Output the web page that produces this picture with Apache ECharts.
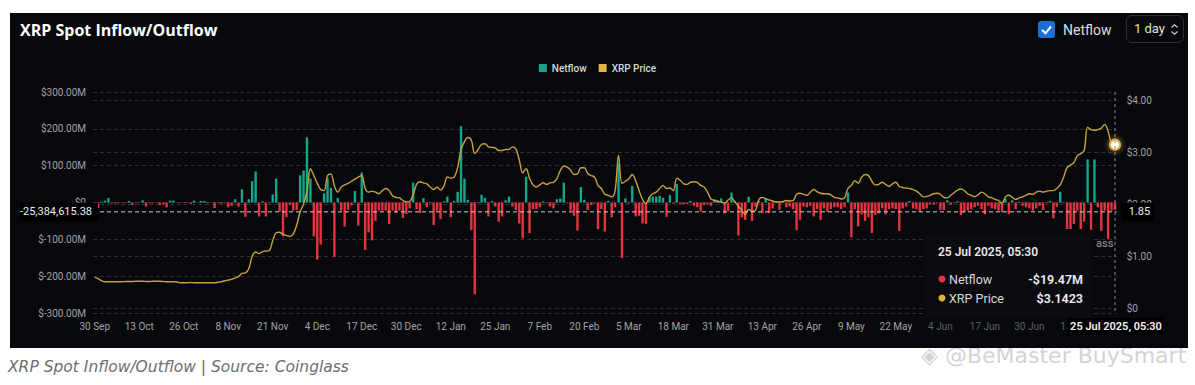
<!DOCTYPE html>
<html><head><meta charset="utf-8">
<script src="https://cdn.jsdelivr.net/npm/echarts@6/dist/echarts.min.js"></script>
<style>
html,body{margin:0;padding:0;background:#fff;width:1195px;height:385px;overflow:hidden;}
#wrap{position:relative;width:1195px;height:385px;}
#wm{position:absolute;left:921px;top:343px;font:22px 'DejaVu Sans',sans-serif;color:#d4d4d4;white-space:nowrap;}
#panel{position:absolute;left:10px;top:13px;width:1178px;height:335px;background:#07080c;}
#chart{position:absolute;left:0;top:0;width:1195px;height:385px;}
#cap{position:absolute;left:8px;top:358px;font:italic 15.5px 'DejaVu Sans',sans-serif;color:#6e6e6e;white-space:nowrap;}
#cb{position:absolute;left:1038px;top:21px;width:17px;height:17px;background:#1c6fd4;border-radius:3px;}
#nf{position:absolute;left:1063px;top:20px;font:14px 'Roboto',sans-serif;color:#dedede;line-height:20px;}
#sel{position:absolute;left:1126px;top:15px;width:58px;height:28px;border:1px solid #2c2e34;border-radius:6px;box-sizing:border-box;font:13px 'Roboto',sans-serif;color:#e0e0e0;line-height:26px;padding-left:7px;}
#sel svg{position:absolute;left:44px;top:8px;}
</style></head>
<body><div id="wrap">
<div id="wm">&#9672; @BeMaster BuySmart</div>
<div id="panel"></div>
<div id="cap">XRP Spot Inflow/Outflow | Source: Coinglass</div>
<div id="chart"></div>
<div id="cb"><svg width="17" height="17"><path d="M4 9 L7.5 12.3 L13 5.5" stroke="#fff" stroke-width="2" fill="none"/></svg></div>
<div id="nf">Netflow</div>
<div id="sel">1 day<svg width="7" height="11"><path d="M0.5 3.5 L3.5 0.8 L6.5 3.5 M0.5 7.5 L3.5 10.2 L6.5 7.5" stroke="#cfcfcf" stroke-width="1.2" fill="none"/></svg></div>
</div>
<script>
// Daily netflow (millions USD), 30 Sep 2024 .. 25 Jul 2025
const NETFLOW = [
-1,-15,2,5,12,-3,-2,-2,-1,-2,
4,-7,-1,-1,6,-11,-2,-2,-1,-7,
-5,-13,5,5,-1,-1,-2,-1,-4,5,
-1,4,4,-2,-1,-15,-2,-3,-2,-13,
-9,9,-11,36,-39,9,58,84,-38,3,
-38,-2,22,65,-25,-92,-40,-7,-22,-20,
74,87,177,65,-92,-155,-114,25,65,40,
-148,12,-22,-65,-20,-8,31,-63,81,-129,
-81,-103,-50,-22,-22,-22,-58,-22,-27,-22,
-42,-31,-16,54,-18,-29,12,-13,-2,-61,
-22,-45,3,16,-40,4,29,207,65,7,
-75,-249,-2,21,13,-38,4,-11,-52,-38,
6,16,-11,-20,-57,-97,70,-83,-18,-18,
-13,3,-2,-11,-16,9,11,54,-2,-22,
-36,-76,42,7,-20,-7,-3,-72,-18,-79,
4,-40,-13,105,-151,11,-3,45,-38,-36,
-57,-58,15,16,16,18,13,-39,20,-3,
50,-5,-4,-4,4,-9,-13,-24,-7,-5,
-9,9,6,11,-30,-24,27,4,-90,-40,
-47,16,-50,-11,4,-29,12,-29,-16,4,
-20,4,-13,-11,-18,-75,-47,-11,-13,-9,
-38,-18,-47,-16,-25,-18,-13,-13,-18,-13,
27,-95,-18,-65,-32,-50,-40,-83,-34,-30,
-16,-32,-18,-16,-18,-77,-16,-11,4,-16,
-18,-25,-18,-16,-5,-5,-2,-20,-20,6,
-6,-2,3,-34,-27,-22,-18,-13,-9,-18,
-32,-9,-16,-18,-22,-27,11,-32,6,-18,
2,-9,-13,-16,-22,-16,-9,-20,-2,4,
-43,-11,29,-2,-72,-72,-58,-22,-72,-52,
117,-74,117,-13,-77,-22,-99,-22,-19.47
];
// Daily XRP price (USD)
const PRICE = [
0.60,0.57,0.53,0.51,0.51,0.51,0.51,0.51,0.51,0.515,
0.515,0.515,0.52,0.52,0.52,0.515,0.515,0.52,0.52,0.52,
0.515,0.51,0.51,0.51,0.505,0.49,0.49,0.49,0.495,0.49,
0.49,0.49,0.49,0.49,0.49,0.49,0.50,0.51,0.53,0.54,
0.56,0.58,0.61,0.67,0.68,0.76,1.00,1.08,1.05,1.09,
1.10,1.11,1.30,1.45,1.46,1.42,1.40,1.38,1.43,1.60,
1.85,2.00,2.25,2.68,2.55,2.40,2.28,2.26,2.55,2.58,
2.35,2.23,2.33,2.37,2.40,2.44,2.48,2.52,2.55,2.30,
2.23,2.25,2.23,2.20,2.26,2.30,2.26,2.16,2.13,2.12,
2.07,2.04,2.05,2.18,2.38,2.43,2.41,2.39,2.33,2.28,
2.33,2.27,2.35,2.52,2.50,2.52,2.70,3.05,3.20,3.28,
3.23,2.97,3.05,3.15,3.16,3.10,3.09,3.08,3.03,3.03,
3.05,3.05,3.10,3.06,2.85,2.60,2.68,2.50,2.37,2.33,
2.37,2.41,2.38,2.41,2.42,2.49,2.65,2.73,2.71,2.65,
2.57,2.58,2.70,2.70,2.59,2.55,2.52,2.36,2.30,2.19,
2.17,2.14,2.26,2.94,2.40,2.44,2.49,2.57,2.45,2.26,
2.09,2.01,2.13,2.20,2.23,2.30,2.36,2.30,2.31,2.26,
2.50,2.46,2.39,2.38,2.42,2.43,2.42,2.36,2.33,2.23,
2.10,2.07,2.05,2.04,2.02,2.08,2.12,2.04,1.96,1.88,
1.80,1.90,1.86,1.88,2.09,2.13,2.10,2.08,2.06,2.04,
2.04,2.05,2.07,2.06,2.07,2.19,2.21,2.19,2.17,2.23,
2.28,2.24,2.21,2.20,2.20,2.18,2.13,2.12,2.10,2.12,
2.30,2.36,2.45,2.40,2.52,2.57,2.55,2.44,2.37,2.38,
2.42,2.38,2.34,2.39,2.42,2.34,2.32,2.31,2.30,2.28,
2.25,2.20,2.14,2.15,2.17,2.20,2.21,2.19,2.13,2.12,
2.17,2.22,2.27,2.29,2.26,2.20,2.17,2.14,2.18,2.23,
2.20,2.14,2.12,2.09,2.07,2.01,2.14,2.17,2.13,2.09,
2.12,2.14,2.17,2.20,2.19,2.23,2.25,2.23,2.25,2.26,
2.26,2.30,2.37,2.52,2.70,2.75,2.80,2.93,2.97,3.03,
3.48,3.43,3.42,3.43,3.46,3.53,3.40,3.16,3.1423
];
const TICK_LABELS = ['30 Sep','13 Oct','26 Oct','8 Nov','21 Nov','4 Dec','17 Dec','30 Dec','12 Jan','25 Jan','7 Feb','20 Feb','5 Mar','18 Mar','31 Mar','13 Apr','26 Apr','9 May','22 May','4 Jun','17 Jun','30 Jun','13 Jul'];
const DIM_FROM_TICK = 19;
const POINTER_NETFLOW = -25384615.38;
const POINTER_PRICE = 1.85;
const POINTER_TIME = '25 Jul 2025, 05:30';

const CATS = [];
for (let i = 0; i < NETFLOW.length; i++) {
  const d = new Date(Date.UTC(2024, 8, 30 + i));
  CATS.push(d.toISOString().slice(0, 10));
}
const GREEN = '#17a589', RED = '#e5333f', GOLD = '#c9a13b', GOLD_LEG = '#e3b341';
const AX = {color:'#a3a3a3', fontSize:10, fontFamily:'Roboto'};
const SPLIT = {lineStyle:{type:[4,3], color:'#2c2e33', width:1}};

const chart = echarts.init(document.getElementById('chart'), null, {renderer:'svg'});
chart.setOption({
  animation:false,
  title:{text:'XRP Spot Inflow/Outflow', left:15, top:17, textStyle:{color:'#ffffff', fontSize:16, fontWeight:'bold', fontFamily:'Open Sans'}},
  legend:{top:58, left:'center', icon:'rect', itemWidth:8, itemHeight:8, itemGap:12,
    textStyle:{color:'#d6d6d6', fontSize:10, fontWeight:500, fontFamily:'Roboto'},
    data:[{name:'Netflow', itemStyle:{color:GREEN}}, {name:'XRP Price', itemStyle:{color:GOLD_LEG}}]},
  grid:[{left:93, right:78.3, top:92, height:221}, {left:93, right:78.3, top:100, height:208.3}],
  xAxis:[
    {type:'category', gridIndex:0, data:CATS, boundaryGap:true, axisLine:{show:false}, axisTick:{show:false}, splitLine:{show:false},
     axisLabel:Object.assign({}, AX, {interval:12, margin:8,
       formatter:(v, idx) => { const k = idx / 13; const t = TICK_LABELS[k] || ''; return k >= DIM_FROM_TICK ? '{d|' + t + '}' : t; },
       rich:{d:{color:'#5f6166', fontSize:10, fontFamily:'Roboto'}}})},
    {type:'category', gridIndex:1, data:CATS, boundaryGap:true, show:false}
  ],
  yAxis:[
    {type:'value', gridIndex:0, min:-300, max:300, interval:100, position:'left',
     axisLine:{show:false}, axisTick:{show:false}, splitLine:SPLIT,
     axisLabel:Object.assign({}, AX, {margin:7, formatter:v => v === 0 ? '$0' : '$' + v + '.00M'})},
    {type:'value', gridIndex:1, min:0, max:4, interval:1, position:'right',
     axisLine:{show:false}, axisTick:{show:false}, splitLine:SPLIT,
     axisLabel:Object.assign({}, AX, {margin:10, formatter:v => v === 0 ? '$0' : '$' + v.toFixed(2)})}
  ],
  series:[
    {type:'bar', name:'Netflow', xAxisIndex:0, yAxisIndex:0, data:NETFLOW, barWidth:2.4, z:2,
     itemStyle:{color:p => p.value >= 0 ? GREEN : RED}},
    {type:'line', name:'XRP Price', xAxisIndex:1, yAxisIndex:1, data:PRICE, showSymbol:false, smooth:0.35, z:3,
     lineStyle:{color:GOLD, width:1.4},
     markPoint:{symbol:'circle', symbolSize:10, label:{show:false},
       itemStyle:{color:'#ffffff', borderColor:'#e2b24a', borderWidth:2, shadowBlur:6, shadowColor:'rgba(226,178,74,0.8)'},
       data:[{coord:[CATS[CATS.length-1], PRICE[PRICE.length-1]]}]}}
  ]
});

// crosshair / tooltip overlay positioned through the chart's own scales
const last = CATS.length - 1;
const pPt = chart.convertToPixel({gridIndex:0}, [last, POINTER_NETFLOW / 1e6]);
const gTop = chart.convertToPixel({yAxisIndex:0}, 300);
const gBot = chart.convertToPixel({yAxisIndex:0}, -300);
const x0 = chart.convertToPixel({xAxisIndex:0}, 0);
const x1 = chart.convertToPixel({xAxisIndex:0}, 1);
const band = x1 - x0;
const gLeft = x0 - band / 2, gRight = pPt[0] + band / 2;
const px = pPt[0], py = pPt[1];
const nfLast = NETFLOW[last], prLast = PRICE[last];
const nfText = (nfLast < 0 ? '-$' : '$') + Math.abs(nfLast).toFixed(2) + 'M';
const prText = '$' + prLast.toFixed(4);
const ptrText = POINTER_NETFLOW.toLocaleString('en-US', {minimumFractionDigits:2, maximumFractionDigits:2});
const TF = 'Roboto';
const tipL = px - 190, tipR = px - 23, tipT = gBot - 79, tipB = gBot + 5;

chart.setOption({graphic:[
  {type:'text', z:50, style:{x:1096, y:243, text:'ass', fill:'#9d9d9d', font:'11px Roboto', textVerticalAlign:'middle'}},
  {type:'rect', z:60, shape:{x:tipL, y:tipT, width:tipR - tipL, height:tipB - tipT}, style:{fill:'#0a0b0f'}},
  {type:'text', z:61, style:{x:tipL + 13, y:tipT + 18, text:POINTER_TIME, fill:'#e8e8e8', font:'600 12px ' + TF, textVerticalAlign:'middle'}},
  {type:'circle', z:61, shape:{cx:tipL + 17, cy:tipT + 45, r:3.5}, style:{fill:RED}},
  {type:'text', z:61, style:{x:tipL + 24, y:tipT + 45, text:'Netflow', fill:'#d8d8d8', font:'12.5px ' + TF, textVerticalAlign:'middle'}},
  {type:'text', z:61, style:{x:tipR - 9, y:tipT + 45, text:nfText, fill:'#eeeeee', font:'600 12.5px ' + TF, textAlign:'right', textVerticalAlign:'middle'}},
  {type:'circle', z:61, shape:{cx:tipL + 17, cy:tipT + 64, r:3.5}, style:{fill:GOLD_LEG}},
  {type:'text', z:61, style:{x:tipL + 24, y:tipT + 64, text:'XRP Price', fill:'#d8d8d8', font:'12.5px ' + TF, textVerticalAlign:'middle'}},
  {type:'text', z:61, style:{x:tipR - 9, y:tipT + 64, text:prText, fill:'#eeeeee', font:'600 12.5px ' + TF, textAlign:'right', textVerticalAlign:'middle'}},
  {type:'line', z:70, shape:{x1:gLeft, y1:py, x2:gRight, y2:py}, style:{stroke:'#cfcfcf', lineWidth:1, lineDash:[4,3]}},
  {type:'line', z:70, shape:{x1:px, y1:gTop, x2:px, y2:gBot}, style:{stroke:'#8c8c8c', lineWidth:1, lineDash:[3,3]}},
  {type:'rect', z:80, shape:{x:20, y:py - 9, width:gLeft + 5 - 20, height:18}, style:{fill:'#000000'}},
  {type:'text', z:81, style:{x:gLeft - 1, y:py, text:ptrText, fill:'#eeeeee', font:'11px ' + TF, textAlign:'right', textVerticalAlign:'middle'}},
  {type:'rect', z:80, shape:{x:gRight + 5, y:py - 9, width:32, height:18}, style:{fill:'#000000'}},
  {type:'text', z:81, style:{x:gRight + 12, y:py, text:POINTER_PRICE.toFixed(2), fill:'#eeeeee', font:'11px ' + TF, textVerticalAlign:'middle'}},
  {type:'rect', z:80, shape:{x:px - 48, y:gBot + 5, width:96, height:17}, style:{fill:'#000000'}},
  {type:'text', z:81, style:{x:px + 1, y:gBot + 13.5, text:POINTER_TIME, fill:'#f2f2f2', font:'600 11px ' + TF, textAlign:'center', textVerticalAlign:'middle'}}
]});
</script>
</body></html>
